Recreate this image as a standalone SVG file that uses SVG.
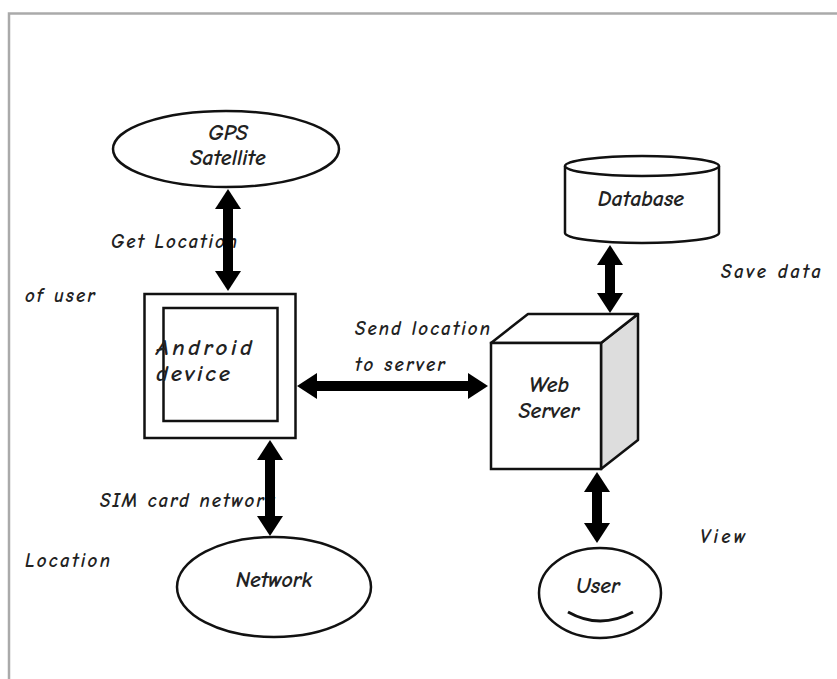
<svg xmlns="http://www.w3.org/2000/svg" width="837" height="679" viewBox="0 0 837 679">
<defs>
<style>
.ln{fill:none;stroke:#111;stroke-width:3}
.nd{fill:#fff;stroke:#111;stroke-width:2.5}
.t{font-family:"Comic Neue","DejaVu Sans",sans-serif;font-style:italic;font-weight:bold;fill:#222}
.lbl{font-size:19px}
.nt{font-size:22px;text-anchor:middle}
.ar{stroke:#000;stroke-width:10;marker-start:url(#ah);marker-end:url(#ah)}
</style>
<marker id="ah" markerUnits="userSpaceOnUse" markerWidth="26" markerHeight="26" viewBox="0 0 20 26" refX="5" refY="13" orient="auto-start-reverse">
<path d="M0,0 L20,13 L0,26 z" fill="#000"/>
</marker>
</defs>
<rect x="0" y="0" width="837" height="679" fill="#fff"/>
<path d="M9,690 V13.5 H850" fill="none" stroke="#aaa" stroke-width="2.5"/>

<g id="labels">
<text class="t lbl" x="111" y="248" textLength="126">Get Location</text>
<text class="t lbl" x="25" y="302" textLength="70">of user</text>
<text class="t lbl" x="355" y="335" textLength="135">Send location</text>
<text class="t lbl" x="355" y="371" textLength="90">to server</text>
<text class="t lbl" x="721" y="278" textLength="100">Save data</text>
<text class="t lbl" x="100" y="507" textLength="175">SIM card network</text>
<text class="t lbl" x="25" y="567" textLength="85">Location</text>
<text class="t lbl" x="700" y="543" textLength="45">View</text>
</g>

<g id="gps">
<ellipse class="nd" cx="226" cy="149" rx="113" ry="38"/>
<text class="t nt" x="228" y="140">GPS</text>
<text class="t nt" x="228" y="165">Satellite</text>
</g>

<g id="android">
<rect class="nd" x="144.5" y="294" width="151" height="144"/>
<rect class="nd" x="163.5" y="308" width="114" height="113"/>
<text class="t" x="156" y="355" font-size="23" textLength="96">Android</text>
<text class="t" x="156" y="381" font-size="23" textLength="74">device</text>
</g>

<g id="webserver">
<path d="M601,343 L638,314 V440 L601,469 Z" fill="#ddd" stroke="#111" stroke-width="2.5" stroke-linejoin="round"/>
<path d="M491,343 L528,314 H638 L601,343 Z" fill="#fff" stroke="#111" stroke-width="2.5" stroke-linejoin="round"/>
<rect class="nd" x="491" y="343" width="110" height="126"/>
<text class="t nt" x="549" y="392">Web</text>
<text class="t nt" x="549" y="418">Server</text>
</g>

<g id="database">
<path d="M565,166 V233 A77,10 0 0 0 719,233 V166" class="nd"/>
<ellipse class="nd" cx="642" cy="166" rx="77" ry="10"/>
<text class="t nt" x="641" y="206">Database</text>
</g>

<g id="network">
<ellipse class="nd" cx="274" cy="587" rx="97" ry="50"/>
<text class="t nt" x="274" y="587">Network</text>
</g>

<g id="user">
<ellipse class="nd" cx="600" cy="593" rx="61" ry="45"/>
<text class="t nt" x="598" y="593">User</text>
<path d="M568,612 Q600,630 633,612" class="ln" stroke-width="2.5"/>
</g>

<g id="connectors">
<line class="ar" x1="228" y1="204" x2="228" y2="276"/>
<line class="ar" x1="312" y1="386" x2="473" y2="386"/>
<line class="ar" x1="610" y1="260" x2="610" y2="298"/>
<line class="ar" x1="597" y1="487" x2="597" y2="528"/>
<line class="ar" x1="270" y1="455" x2="270" y2="521"/>
</g>
</svg>
